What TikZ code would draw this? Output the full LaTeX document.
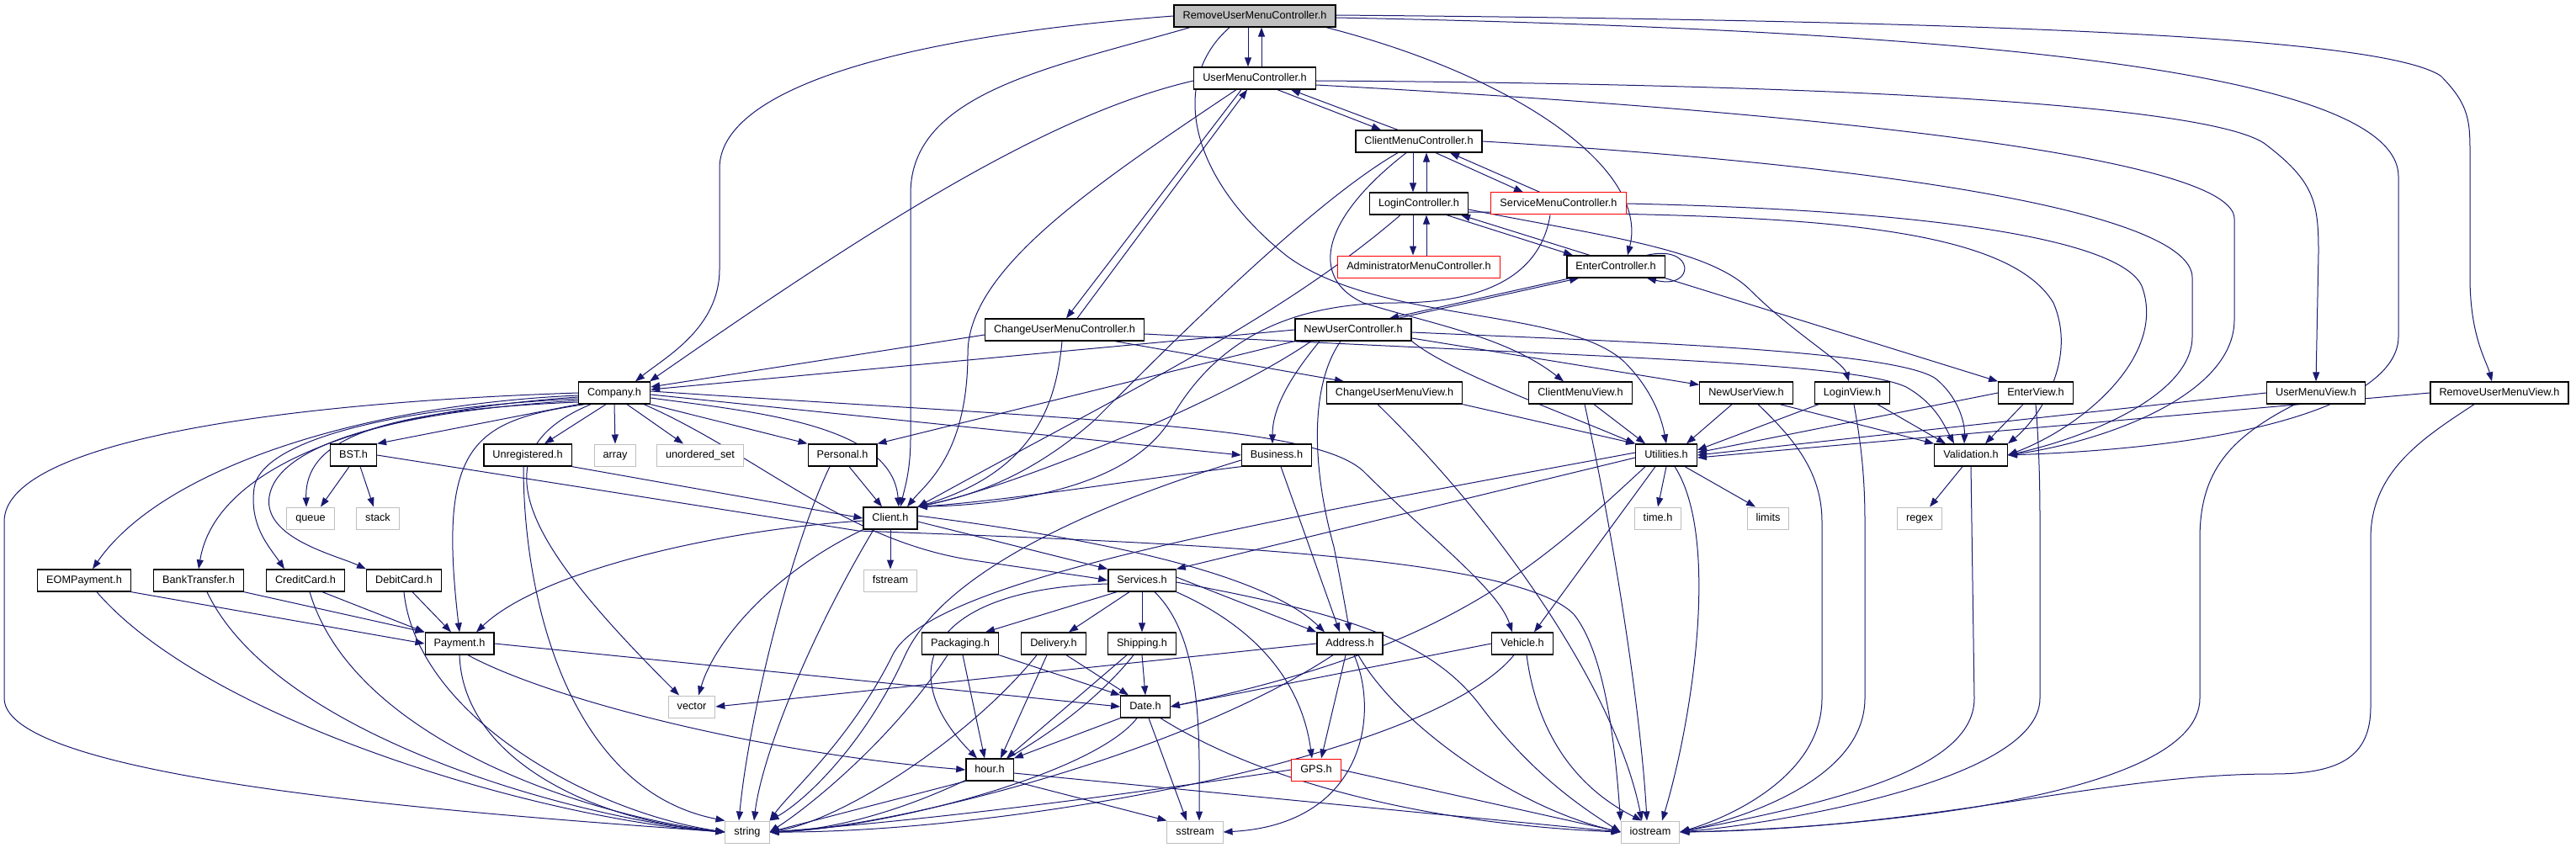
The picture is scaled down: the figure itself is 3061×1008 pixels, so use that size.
\documentclass[tikz,border=0pt]{standalone}
\usepackage{fontspec}
\setmainfont{Liberation Sans}
\usetikzlibrary{arrows.meta}
\definecolor{EdgeClr}{rgb}{0.1,0.1,0.44}
\definecolor{SysClr}{rgb}{0.75,0.75,0.75}
\definecolor{RootClr}{rgb}{0.75,0.75,0.75}
\pgfdeclarelayer{edges}
\pgfsetlayers{edges,main}

\begin{document}
\begin{tikzpicture}[x=1pt,y=-1pt,
  file/.style={draw=black,line width=1.3pt,fill=white,minimum height=26pt,inner xsep=10.5pt,inner ysep=0pt,text height=9.4pt,text depth=2.6pt,font=\fontsize{12.7}{15}\selectfont},
  sys/.style={file,draw=SysClr,line width=1pt},
  miss/.style={file,draw=red,line width=1pt},
  root/.style={file,fill=RootClr},
  inc/.style={draw=EdgeClr,line width=1pt,-{Triangle[length=11pt,width=8pt]}}]
\useasboundingbox (0,0) rectangle (3061,1008);

\node[root] (rumc) at (1491,19) {RemoveUserMenuController.h};
\node[file] (umc) at (1491,93) {UserMenuController.h};
\node[file] (cmc) at (1686,168) {ClientMenuController.h};
\node[file] (lc) at (1686,242) {LoginController.h};
\node[miss] (smc) at (1852,242) {ServiceMenuController.h};
\node[miss] (amc) at (1686,317) {AdministratorMenuController.h};
\node[file] (ec) at (1920,317) {EnterController.h};
\node[file] (cumc) at (1265,392) {ChangeUserMenuController.h};
\node[file] (nuc) at (1608,392) {NewUserController.h};
\node[file] (company) at (730,467) {Company.h};
\node[file] (cumv) at (1657,467) {ChangeUserMenuView.h};
\node[file] (cmv) at (1878,467) {ClientMenuView.h};
\node[file] (nuv) at (2075,467) {NewUserView.h};
\node[file] (lv) at (2201,467) {LoginView.h};
\node[file] (ev) at (2419,467) {EnterView.h};
\node[file] (umv) at (2752,467) {UserMenuView.h};
\node[file] (rumv) at (2970,467) {RemoveUserMenuView.h};
\node[file] (bst) at (420,541) {BST.h};
\node[file] (unreg) at (627,541) {Unregistered.h};
\node[sys] (array) at (731,541) {array};
\node[sys] (uset) at (832,541) {unordered\_set};
\node[file] (personal) at (1001,541) {Personal.h};
\node[file] (business) at (1517,541) {Business.h};
\node[file] (util) at (1980,541) {Utilities.h};
\node[file] (valid) at (2342,541) {Validation.h};
\node[sys] (queue) at (369,616) {queue};
\node[sys] (stack) at (449,616) {stack};
\node[file] (client) at (1058,616) {Client.h};
\node[sys] (timeh) at (1970,616) {time.h};
\node[sys] (limits) at (2101,616) {limits};
\node[sys] (regex) at (2281,616) {regex};
\node[file] (eom) at (100,690) {EOMPayment.h};
\node[file] (bank) at (236,690) {BankTransfer.h};
\node[file] (credit) at (363,690) {CreditCard.h};
\node[file] (debit) at (480,690) {DebitCard.h};
\node[sys] (fstream) at (1058,690) {fstream};
\node[file] (services) at (1357,690) {Services.h};
\node[file] (payment) at (546,765) {Payment.h};
\node[file] (packaging) at (1141,765) {Packaging.h};
\node[file] (delivery) at (1252,765) {Delivery.h};
\node[file] (shipping) at (1357,765) {Shipping.h};
\node[file] (address) at (1604,765) {Address.h};
\node[file] (vehicle) at (1809,765) {Vehicle.h};
\node[sys] (vector) at (822,840) {vector};
\node[file] (date) at (1361,840) {Date.h};
\node[file] (hour) at (1176,915) {hour.h};
\node[miss] (gps) at (1564,915) {GPS.h};
\node[sys] (string) at (888,989) {string};
\node[sys] (sstream) at (1420,989) {sstream};
\node[sys] (iostream) at (1961,989) {iostream};

\begin{pgfonlayer}{edges}
\draw[inc] ([xshift=-8pt]rumc.south) -- ([xshift=-8pt]umc.north);
\draw[inc] ([xshift=8pt]umc.north) -- ([xshift=8pt]rumc.south);
\draw[inc] (rumc.west) .. controls (1050,45) and (855,110) .. (855,200) -- (855,320) .. controls (855,390) and (790,425) .. ([xshift=25pt]company.north);
\draw[inc] ([xshift=-77pt]rumc.south) .. controls (1250,80) and (1082,110) .. (1082,230) -- (1082,520) .. controls (1082,560) and (1075,580) .. ([xshift=12pt]client.north);
\draw[inc] ([xshift=-30pt]rumc.south) .. controls (1390,95) and (1410,210) .. (1530,305) .. controls (1640,385) and (1860,365) .. (1930,430) .. controls (1965,465) and (1975,500) .. (util.north);
\draw[inc] ([xshift=85pt]rumc.south) .. controls (1800,90) and (1960,200) .. ([xshift=14pt]ec.north);
\draw[inc] ([yshift=1pt]rumc.east) .. controls (2400,25) and (2830,45) .. (2900,90) .. controls (2935,125) and (2935,145) .. (2935,185) -- (2935,330) .. controls (2935,400) and (2955,430) .. ([xshift=-9pt]rumv.north);
\draw[inc] ([yshift=-2pt]rumc.east) .. controls (2300,35) and (2850,80) .. (2850,210) -- (2850,400) .. controls (2850,470) and (2700,530) .. (valid.east);

\draw[inc] ([xshift=-16pt]umc.south) -- ([xshift=2pt]cumc.north);
\draw[inc] ([xshift=15pt]cumc.north) -- ([xshift=-9pt]umc.south);
\draw[inc] ([xshift=27pt]umc.south) -- ([xshift=-45pt]cmc.north);
\draw[inc] ([xshift=-25pt]cmc.north) -- ([xshift=43pt]umc.south);
\draw[inc] ([yshift=-3pt]umc.west) .. controls (1250,135) and (1050,260) .. ([xshift=42pt]company.north);
\draw[inc] ([xshift=-22pt]umc.south) .. controls (1300,220) and (1150,320) .. (1150,420) .. controls (1150,540) and (1100,575) .. ([xshift=20pt]client.north);
\draw[inc] ([yshift=-3pt]umc.east) .. controls (2200,100) and (2620,125) .. (2690,170) .. controls (2750,215) and (2755,240) .. (2755,300) -- (umv.north);
\draw[inc] ([yshift=-8pt]umc.east) .. controls (2200,135) and (2655,190) .. (2655,260) -- (2655,380) .. controls (2655,470) and (2500,525) .. (valid.east);

\draw[inc] ([xshift=-7pt]cmc.south) -- ([xshift=-7pt]lc.north);
\draw[inc] ([xshift=9pt]lc.north) -- ([xshift=9pt]cmc.south);
\draw[inc] ([xshift=20pt]cmc.south) -- ([xshift=-42pt]smc.north);
\draw[inc] ([xshift=-22pt]smc.north) -- ([xshift=37pt]cmc.south);
\draw[inc] ([xshift=-25pt]cmc.south) .. controls (1560,240) and (1400,400) .. (1300,500) .. controls (1220,570) and (1150,590) .. (client.north east);
\draw[inc] ([xshift=-15pt]cmc.south) .. controls (1570,260) and (1555,330) .. (1620,360) .. controls (1700,385) and (1790,400) .. ([xshift=-20pt]cmv.north);
\draw[inc] (cmc.east) .. controls (2300,200) and (2605,260) .. (2605,330) -- (2605,400) .. controls (2605,470) and (2480,520) .. (valid.east);

\draw[inc] ([xshift=-7pt]lc.south) -- ([xshift=-7pt]amc.north);
\draw[inc] ([xshift=9pt]amc.north) -- ([xshift=9pt]lc.south);
\draw[inc] ([xshift=33pt]lc.south) -- ([xshift=-51pt]ec.north);
\draw[inc] ([xshift=-31pt]ec.north) -- ([xshift=50pt]lc.south);
\draw[inc] ([xshift=-22pt]lc.south) .. controls (1520,380) and (1330,470) .. (client.north east);
\draw[inc] ([yshift=-7pt]lc.east) .. controls (1900,280) and (2030,295) .. (2080,345) .. controls (2130,395) and (2190,430) .. ([xshift=-4pt]lv.north);
\draw[inc] ([yshift=-10pt]lc.east) .. controls (2100,255) and (2380,260) .. (2440,360) .. controls (2470,430) and (2420,500) .. (valid.north east);

\draw[inc] (smc.east) .. controls (2300,250) and (2520,285) .. (2545,340) .. controls (2575,420) and (2480,505) .. (valid.east);
\draw[inc] ([xshift=-10pt]smc.south) .. controls (1830,330) and (1760,360) .. (1660,360) .. controls (1500,360) and (1430,430) .. (1390,500) .. controls (1340,580) and (1200,600) .. (client.north east);

\draw[inc] ([xshift=37pt]ec.north) .. controls (2015,290) and (2015,345) .. ([xshift=37pt]ec.south);
\draw[inc] ([xshift=-54pt]ec.south) -- ([xshift=43pt]nuc.north);
\draw[inc] ([xshift=53pt]nuc.north) -- ([xshift=-44pt]ec.south);
\draw[inc] (ec.south east) -- (ev.north west);

\draw[inc] ([yshift=-6pt]cumc.west) -- ([yshift=7pt]company.east);
\draw[inc] ([xshift=-3pt]cumc.south) .. controls (1255,480) and (1230,560) .. (client.north east);
\draw[inc] ([xshift=60pt]cumc.south) -- ([xshift=-60pt]cumv.north);
\draw[inc] ([yshift=-5pt]cumc.east) .. controls (1900,425) and (2200,430) .. (2265,460) .. controls (2300,480) and (2310,505) .. ([xshift=-20pt]valid.north);

\draw[inc] (nuc.west) -- ([yshift=4pt]company.east);
\draw[inc] ([yshift=-3pt]nuc.east) .. controls (1900,405) and (2250,415) .. (2300,450) .. controls (2325,470) and (2335,500) .. ([xshift=-8pt]valid.north);
\draw[inc] ([yshift=-10pt]nuc.east) -- ([yshift=-4pt]nuv.north west);
\draw[inc] (nuc.south east) .. controls (1720,440) and (1830,480) .. (util.north west);
\draw[inc] (nuc.south west) -- (personal.north east);
\draw[inc] ([xshift=-50pt]nuc.south) .. controls (1450,480) and (1200,580) .. (client.north east);
\draw[inc] ([xshift=-40pt]nuc.south) .. controls (1540,440) and (1512,480) .. ([xshift=-5pt]business.north);
\draw[inc] ([xshift=-15pt]nuc.south) .. controls (1555,460) and (1560,560) .. (1585,650) .. controls (1595,700) and (1600,730) .. (address.north);

\draw[inc] (cumv.south east) -- (util.north west);
\draw[inc] ([xshift=-20pt]cumv.south) .. controls (1780,620) and (1920,820) .. ([xshift=-10pt]iostream.north);
\draw[inc] ([xshift=16pt]cmv.south) -- ([xshift=-25pt]util.north);
\draw[inc] ([xshift=5pt]cmv.south) .. controls (1920,650) and (1950,850) .. ([xshift=-4pt]iostream.north);
\draw[inc] ([xshift=-17pt]nuv.south) -- ([xshift=24pt]util.north);
\draw[inc] ([xshift=40pt]nuv.south) -- (valid.north west);
\draw[inc] ([xshift=14pt]nuv.south) .. controls (2130,520) and (2165,560) .. (2165,620) -- (2165,830) .. controls (2165,920) and (2060,970) .. (iostream.east);
\draw[inc] ([xshift=-40pt]lv.south) -- ([yshift=6pt]util.east);
\draw[inc] ([xshift=30pt]lv.south) -- ([xshift=-30pt]valid.north);
\draw[inc] ([xshift=2pt]lv.south) .. controls (2210,520) and (2216,560) .. (2216,620) -- (2216,830) .. controls (2216,930) and (2060,975) .. (iostream.east);
\draw[inc] (ev.west) -- ([yshift=3pt]util.east);
\draw[inc] ([xshift=-15pt]ev.south) -- ([xshift=17pt]valid.north);
\draw[inc] (ev.south) .. controls (2422,520) and (2424,560) .. (2424,620) -- (2424,830) .. controls (2424,930) and (2100,980) .. (iostream.east);
\draw[inc] (umv.west) -- (util.east);
\draw[inc] ([xshift=-25pt]umv.south) .. controls (2650,520) and (2614,560) .. (2614,640) -- (2614,830) .. controls (2614,950) and (2200,985) .. (iostream.east);
\draw[inc] (rumv.west) -- ([yshift=-3pt]util.east);
\draw[inc] ([xshift=-30pt]rumv.south) .. controls (2880,520) and (2817,560) .. (2817,640) -- (2817,840) .. controls (2817,900) and (2780,920) .. (2700,920) .. controls (2500,920) and (2300,985) .. (iostream.east);

\draw[inc] ([xshift=-10pt]valid.south) -- ([xshift=12pt]regex.north);
\draw[inc] (valid.south) -- (2346,830) .. controls (2346,910) and (2200,950) .. (iostream.east);

\draw[inc] (util.south) -- (timeh.north);
\draw[inc] ([xshift=22pt]util.south) -- ([xshift=-15pt]limits.north);
\draw[inc] ([xshift=10pt]util.south) .. controls (2045,640) and (2010,860) .. ([xshift=14pt]iostream.north);
\draw[inc] ([xshift=-13pt]util.south) -- ([xshift=14pt]vehicle.north);
\draw[inc] ([xshift=-25pt]util.south) .. controls (1820,680) and (1720,770) .. (date.east);
\draw[inc] ([yshift=-3pt]util.west) -- (services.north east);
\draw[inc] ([yshift=3pt]util.west) .. controls (1500,620) and (1100,690) .. (1060,780) .. controls (1010,880) and (940,940) .. (string.north east);

\draw[inc] (company.west) .. controls (300,480) and (5,530) .. (5,620) -- (5,830) .. controls (5,930) and (600,970) .. (string.west);
\draw[inc] ([yshift=-3pt]company.west) .. controls (420,482) and (190,560) .. ([xshift=10pt]eom.north);
\draw[inc] ([yshift=-5pt]company.west) .. controls (420,490) and (255,560) .. (bank.north);
\draw[inc] ([yshift=-7pt]company.west) .. controls (460,485) and (310,525) .. (302,580) .. controls (296,625) and (320,650) .. ([xshift=-25pt]credit.north);
\draw[inc] ([yshift=-9pt]company.west) .. controls (460,490) and (330,530) .. (320,590) .. controls (312,640) and (400,660) .. (debit.north west);
\draw[inc] ([yshift=-11pt]company.west) .. controls (440,488) and (362,525) .. ([xshift=-5pt]queue.north);
\draw[inc] (company.south west) -- (bst.north east);
\draw[inc] ([xshift=-35pt]company.south) .. controls (560,500) and (520,530) .. (payment.north);
\draw[inc] ([xshift=-28pt]company.south) .. controls (560,540) and (630,650) .. ([xshift=-15pt]vector.north);
\draw[inc] ([xshift=-10pt]company.south) -- ([xshift=20pt]unreg.north);
\draw[inc] (company.south) -- (array.north);
\draw[inc] ([xshift=15pt]company.south) -- ([xshift=-20pt]uset.north);
\draw[inc] (company.south east) -- (personal.north west);
\draw[inc] ([yshift=-6pt]company.east) .. controls (900,490) and (1060,505) .. ([xshift=10pt]client.north);
\draw[inc] ([yshift=-2pt]company.east) -- (business.west);
\draw[inc] ([yshift=2pt]company.east) .. controls (1300,500) and (1560,505) .. (1620,560) .. controls (1700,640) and (1780,700) .. ([xshift=-12pt]vehicle.north);
\draw[inc] ([xshift=-8pt]company.south east) .. controls (900,540) and (1000,640) .. (1150,665) .. controls (1250,680) and (1290,685) .. (services.west);

\draw[inc] ([xshift=-5pt]bst.south) -- ([xshift=12pt]queue.north);
\draw[inc] ([xshift=8pt]bst.south) -- ([xshift=-5pt]stack.north);
\draw[inc] (bst.east) -- (1020,631) .. controls (1400,645) and (1800,660) .. (1870,730) .. controls (1910,780) and (1920,900) .. (iostream.north west);
\draw[inc] (unreg.south east) -- (client.west);
\draw[inc] ([xshift=-5pt]unreg.south) .. controls (622,720) and (680,940) .. (string.north west);
\draw[inc] ([xshift=8pt]personal.south) -- ([xshift=-10pt]client.north);
\draw[inc] ([xshift=-15pt]personal.south) .. controls (940,650) and (890,850) .. ([xshift=-10pt]string.north);
\draw[inc] (business.south west) .. controls (1350,570) and (1200,595) .. (client.north east);
\draw[inc] ([yshift=-6pt]business.west) .. controls (1300,600) and (1120,680) .. (1075,780) .. controls (1030,880) and (960,950) .. (string.north east);
\draw[inc] ([xshift=5pt]business.south) -- ([xshift=-12pt]address.north);

\draw[inc] (client.south) -- (fstream.north);
\draw[inc] ([yshift=-4pt]client.east) -- (services.north west);
\draw[inc] ([yshift=3pt]client.east) .. controls (1300,640) and (1500,680) .. ([xshift=-30pt]address.north);
\draw[inc] (client.south west) .. controls (920,680) and (850,760) .. ([xshift=8pt]vector.north);
\draw[inc] ([yshift=-3pt]client.west) .. controls (850,630) and (640,680) .. ([xshift=20pt]payment.north);
\draw[inc] ([xshift=-20pt]client.south) .. controls (960,760) and (905,900) .. ([xshift=8pt]string.north);

\draw[inc] ([xshift=-30pt]services.south) -- ([xshift=30pt]packaging.north);
\draw[inc] ([xshift=-15pt]services.south) -- ([xshift=18pt]delivery.north);
\draw[inc] (services.south) -- (shipping.north);
\draw[inc] ([yshift=4pt]services.east) -- (address.north west);
\draw[inc] (services.south east) .. controls (1480,740) and (1545,800) .. ([xshift=-5pt]gps.north);
\draw[inc] ([xshift=15pt]services.south) .. controls (1430,760) and (1425,880) .. ([xshift=5pt]sstream.north);
\draw[inc] ([yshift=-2pt]services.east) .. controls (1600,730) and (1700,760) .. (1760,840) .. controls (1820,920) and (1880,960) .. (iostream.west);
\draw[inc] ([yshift=-4pt]services.west) .. controls (1100,700) and (1060,800) .. ([xshift=-15pt]hour.north);

\draw[inc] (packaging.south east) -- (date.north west);
\draw[inc] ([xshift=3pt]packaging.south) -- ([xshift=-6pt]hour.north);
\draw[inc] ([xshift=-15pt]packaging.south) .. controls (1060,880) and (960,960) .. (string.east);
\draw[inc] ([xshift=15pt]delivery.south) -- ([xshift=-20pt]date.north);
\draw[inc] ([xshift=-8pt]delivery.south) -- ([xshift=13pt]hour.north);
\draw[inc] ([xshift=-20pt]delivery.south) .. controls (1150,880) and (1000,975) .. (string.east);
\draw[inc] (shipping.south) -- (date.north);
\draw[inc] ([xshift=-18pt]shipping.south) -- ([xshift=20pt]hour.north);
\draw[inc] ([xshift=-10pt]shipping.south) .. controls (1250,900) and (1050,985) .. (string.east);

\draw[inc] ([xshift=-5pt]address.south) -- ([xshift=6pt]gps.north);
\draw[inc] ([xshift=5pt]address.south) .. controls (1640,850) and (1620,980) .. (sstream.east);
\draw[inc] ([xshift=10pt]address.south) .. controls (1660,860) and (1800,960) .. (iostream.west);
\draw[inc] (address.west) -- (vector.east);
\draw[inc] ([xshift=-20pt]address.south) .. controls (1400,900) and (1050,985) .. (string.east);
\draw[inc] (vehicle.west) -- (date.east);
\draw[inc] ([xshift=-10pt]vehicle.south) .. controls (1700,900) and (1200,990) .. (string.east);
\draw[inc] ([xshift=5pt]vehicle.south) .. controls (1830,900) and (1900,950) .. ([xshift=-10pt]iostream.north);

\draw[inc] (date.south west) -- (hour.north east);
\draw[inc] ([xshift=-10pt]date.south) .. controls (1300,920) and (1050,985) .. (string.east);
\draw[inc] ([xshift=4pt]date.south) -- ([xshift=-10pt]sstream.north);
\draw[inc] ([xshift=18pt]date.south) .. controls (1500,930) and (1700,980) .. (iostream.west);
\draw[inc] (hour.south west) -- (string.east);
\draw[inc] (hour.south east) -- (sstream.north west);
\draw[inc] ([yshift=-4pt]hour.east) -- (iostream.west);
\draw[inc] (gps.west) .. controls (1300,950) and (1100,975) .. (string.east);
\draw[inc] (gps.east) -- (iostream.west);

\draw[inc] (payment.east) -- (date.west);
\draw[inc] ([xshift=10pt]payment.south) .. controls (650,830) and (900,895) .. (hour.west);
\draw[inc] (payment.south) .. controls (550,900) and (700,975) .. (string.west);
\draw[inc] (eom.south east) -- (payment.west);
\draw[inc] ([xshift=15pt]eom.south) .. controls (250,860) and (650,975) .. (string.west);
\draw[inc] (bank.south east) -- (payment.north west);
\draw[inc] ([xshift=10pt]bank.south) .. controls (330,880) and (700,975) .. (string.west);
\draw[inc] ([xshift=20pt]credit.south) -- (payment.north west);
\draw[inc] ([xshift=5pt]credit.south) .. controls (420,880) and (700,970) .. (string.west);
\draw[inc] ([xshift=10pt]debit.south) -- ([xshift=-10pt]payment.north);
\draw[inc] (debit.south) .. controls (495,850) and (700,965) .. (string.west);
\end{pgfonlayer}
\end{tikzpicture}
\end{document}
